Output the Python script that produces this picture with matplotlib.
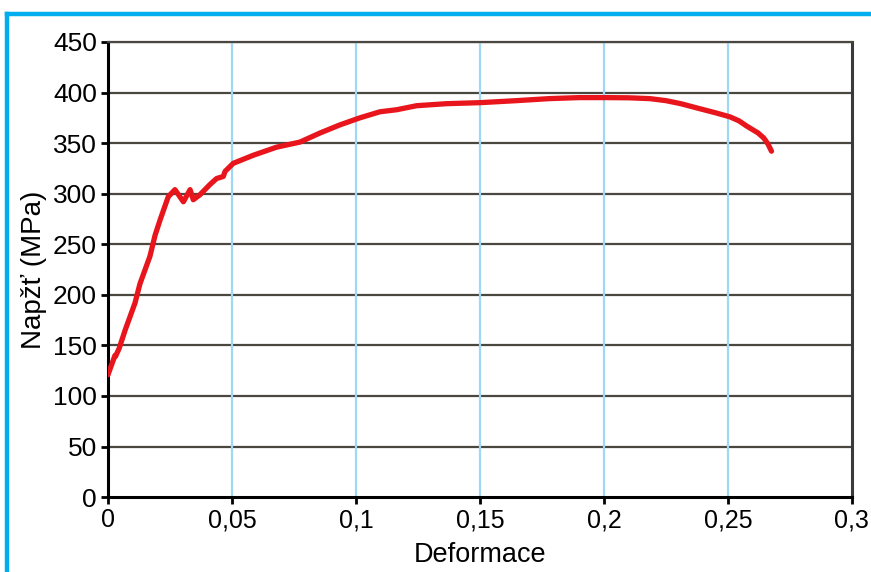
import matplotlib.pyplot as plt
from matplotlib.lines import Line2D
from matplotlib.ticker import FuncFormatter

# Stress-strain curve
strain = [0.0, 0.0028, 0.003, 0.0045, 0.0069, 0.0109, 0.0129, 0.0169, 0.019,
          0.021, 0.0243, 0.027, 0.0304, 0.0331, 0.0344, 0.0371, 0.0411, 0.0438,
          0.0465, 0.0472, 0.0505, 0.0586, 0.068, 0.0774, 0.0855, 0.0935,
          0.1016, 0.1097, 0.1164, 0.1245, 0.1366, 0.15, 0.1648, 0.178, 0.19,
          0.201, 0.21, 0.2185, 0.225, 0.231, 0.2387, 0.245, 0.2508, 0.2545,
          0.2575, 0.2622, 0.2645, 0.2662, 0.2676]
stress = [121, 140, 139, 147, 165, 192, 211, 238, 259,
          274, 297, 304, 292, 304, 294, 299, 309, 315,
          317, 322, 330, 338, 346, 351, 360, 368,
          375, 381, 383, 387, 389, 390, 392, 394, 395,
          395, 394.8, 394, 392, 389, 384, 380, 376, 372,
          367, 360, 355, 349, 342]

x_ticks = [0, 0.05, 0.1, 0.15, 0.2, 0.25, 0.3]
y_ticks = [0, 50, 100, 150, 200, 250, 300, 350, 400, 450]

plt.rcParams['font.family'] = ['Liberation Sans', 'DejaVu Sans']

fig = plt.figure(figsize=(8.71, 5.72), dpi=100)
ax = fig.add_axes([0.124, 0.131, 0.854, 0.7956])

# Grid: dark horizontal lines, light blue vertical lines
for y in y_ticks[1:]:
    ax.axhline(y, color='#4a4640', lw=1.6, zorder=1)
for x in x_ticks[1:-1]:
    ax.axvline(x, color='#9ed8f4', lw=1.6, zorder=1)

ax.plot(strain, stress, color='#e8161c', lw=3.8, solid_capstyle='round',
        solid_joinstyle='round', zorder=3)

ax.set_xlim(0, 0.3)
ax.set_ylim(0, 450)
ax.set_xticks(x_ticks)
ax.set_yticks(y_ticks)
ax.xaxis.set_major_formatter(FuncFormatter(lambda v, p: ('%g' % v).replace('.', ',')))

ax.spines['left'].set_linewidth(2.2)
ax.spines['bottom'].set_linewidth(2.2)
ax.spines['right'].set_linewidth(2.2)
ax.spines['right'].set_color('#3a3a3a')
ax.spines['top'].set_linewidth(1.6)
ax.spines['top'].set_color('#4a4640')
ax.tick_params(axis='both', direction='out', length=5, width=2, color='black',
               labelsize=18, pad=3)
ax.tick_params(axis='y', labelsize=19)

ax.set_xlabel('Deformace', fontsize=19.5, labelpad=7)
ax.set_ylabel('Napžť (MPa)', fontsize=20, labelpad=4)

# Blue frame on the top and left edges
fig.add_artist(Line2D([0.0085, 1.0], [0.9755, 0.9755], color='#00aeef', lw=3.2,
                      transform=fig.transFigure))
fig.add_artist(Line2D([0.0085, 0.0085], [0.0, 0.9755], color='#00aeef', lw=3.2,
                      transform=fig.transFigure))

fig.savefig('out.png', dpi=100)
